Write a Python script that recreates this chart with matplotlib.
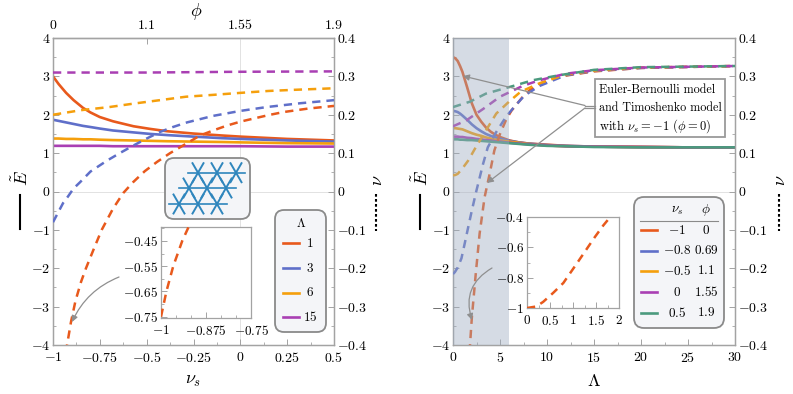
import matplotlib
matplotlib.use('Agg')
import matplotlib.pyplot as plt
from matplotlib.patches import FancyBboxPatch, FancyArrowPatch, Rectangle

plt.rcParams['mathtext.fontset'] = 'cm'
plt.rcParams['font.family'] = 'cmr10'
plt.rcParams['axes.unicode_minus'] = False
plt.rcParams['axes.formatter.use_mathtext'] = True

RED = '#e8591c'
BLUE = '#5f6fc9'
ORANGE = '#f59f0c'
PURPLE = '#a93fb3'
GREEN = '#4b9a7e'
FRAME = '#a3a3a3'
W, H = 793, 394

# left panel, Young's modulus against nu_s
nus_e = [-1, -0.97, -0.93, -0.89, -0.84, -0.8, -0.75, -0.68, -0.57, -0.48, -0.39, -0.25, -0.1, 0, 0.25, 0.5]
e_l1 = [3.0, 2.8, 2.57, 2.38, 2.18, 2.06, 1.94, 1.83, 1.7, 1.63, 1.57, 1.51, 1.46, 1.43, 1.37, 1.33]
e_l3 = [1.87, 1.84, 1.8, 1.76, 1.71, 1.68, 1.64, 1.59, 1.54, 1.5, 1.47, 1.43, 1.39, 1.37, 1.33, 1.3]
e_l6 = [1.38, 1.38, 1.37, 1.37, 1.36, 1.36, 1.35, 1.34, 1.33, 1.32, 1.31, 1.3, 1.29, 1.28, 1.26, 1.25]
e_l15 = [1.19, 1.19, 1.19, 1.19, 1.19, 1.19, 1.19, 1.18, 1.18, 1.18, 1.18, 1.18, 1.18, 1.18, 1.17, 1.17]

# left panel, Poisson's ratio against nu_s
nus_l1 = [-1, -0.985, -0.966, -0.941, -0.925, -0.904, -0.88, -0.85, -0.824, -0.78, -0.74, -0.68, -0.625, -0.573, -0.51,
          -0.445, -0.375, -0.305, -0.215, -0.14, -0.07, 0, 0.07, 0.15, 0.23, 0.36, 0.5]
nu_l1 = [-0.75, -0.65, -0.55, -0.45, -0.4, -0.34, -0.285, -0.235, -0.2, -0.147, -0.1, -0.045, -0.004, 0.024, 0.053,
         0.077, 0.1, 0.12, 0.146, 0.16, 0.172, 0.182, 0.19, 0.199, 0.207, 0.216, 0.223]
nus_l3 = [-1, -0.946, -0.92, -0.89, -0.856, -0.8, -0.71, -0.64, -0.57, -0.5, -0.43, -0.36, -0.285, -0.146, 0, 0.14, 0.32, 0.5]
nu_l3 = [-0.08, -0.03, -0.013, 0.008, 0.024, 0.052, 0.081, 0.101, 0.12, 0.138, 0.155, 0.168, 0.18, 0.197, 0.21, 0.22, 0.23, 0.238]
nus_l6 = [-1, -0.85, -0.7, -0.57, -0.43, -0.29, -0.14, 0, 0.15, 0.29, 0.5]
nu_l6 = [0.2, 0.212, 0.22, 0.229, 0.238, 0.247, 0.252, 0.257, 0.262, 0.265, 0.269]
nus_l15 = [-1, -0.5, 0, 0.5]
nu_l15 = [0.31, 0.31, 0.312, 0.313]

# right panel, Young's modulus against Lambda
lam_e = [0, 0.25, 0.5, 0.75, 1, 1.5, 2, 2.5, 3, 3.5, 4, 4.5, 5, 6, 7, 8, 10, 12, 15, 20, 25, 30]
e_m1 = [3.5, 3.47, 3.4, 3.27, 3.12, 2.72, 2.3, 2.0, 1.82, 1.67, 1.56, 1.48, 1.42, 1.33, 1.28, 1.25, 1.22, 1.19, 1.17, 1.16, 1.15, 1.15]
e_m08 = [2.1, 2.09, 2.07, 2.03, 1.98, 1.87, 1.75, 1.65, 1.57, 1.5, 1.45, 1.41, 1.38, 1.32, 1.28, 1.25, 1.21, 1.19, 1.17, 1.16, 1.15, 1.15]
e_m05 = [1.65, 1.65, 1.64, 1.63, 1.62, 1.57, 1.52, 1.48, 1.45, 1.41, 1.38, 1.35, 1.33, 1.3, 1.27, 1.24, 1.2, 1.18, 1.17, 1.16, 1.15, 1.15]
e_0 = [1.43, 1.43, 1.43, 1.42, 1.42, 1.4, 1.39, 1.37, 1.36, 1.34, 1.33, 1.31, 1.3, 1.27, 1.25, 1.23, 1.2, 1.18, 1.17, 1.16, 1.15, 1.15]
e_05 = [1.36, 1.36, 1.36, 1.35, 1.35, 1.34, 1.34, 1.33, 1.32, 1.31, 1.3, 1.29, 1.28, 1.26, 1.24, 1.22, 1.19, 1.18, 1.16, 1.15, 1.15, 1.15]

# right panel, Poisson's ratio against Lambda
lam_r = [0, 0.2, 0.35, 0.57, 0.79, 0.97, 1.12, 1.3, 1.48, 1.66, 1.81, 2, 2.4, 2.83, 3.36, 3.9, 4.4, 5, 5.65, 6.2, 6.8, 7.4, 8.2, 9.2, 10.5, 12, 15, 20, 30]
nu_r = [-1, -0.99, -0.96, -0.9, -0.835, -0.756, -0.69, -0.61, -0.53, -0.455, -0.4, -0.33, -0.22, -0.11, -0.015, 0.046, 0.107,
        0.15, 0.187, 0.21, 0.228, 0.246, 0.265, 0.28, 0.293, 0.302, 0.313, 0.322, 0.327]
lam_b = [0, 0.2, 0.5, 0.9, 1.25, 1.6, 2, 2.47, 3.2, 3.7, 4.6, 5.65, 6.5, 7.6, 9.2, 12, 15, 20, 30]
nu_b = [-0.215, -0.21, -0.198, -0.174, -0.135, -0.095, -0.05, 0, 0.072, 0.115, 0.155, 0.195, 0.22, 0.25, 0.275, 0.303, 0.314, 0.322, 0.327]
lam_o = [0, 0.25, 0.5, 1, 1.6, 2.3, 3.4, 4.6, 6, 7.2, 9.2, 12, 15, 20, 30]
nu_o = [0.042, 0.043, 0.046, 0.06, 0.08, 0.11, 0.155, 0.203, 0.235, 0.26, 0.282, 0.305, 0.315, 0.323, 0.327]
lam_p = [0, 1.4, 3.2, 5, 7.4, 9.2, 12, 15, 20, 30]
nu_p = [0.17, 0.185, 0.215, 0.247, 0.275, 0.29, 0.307, 0.316, 0.323, 0.327]
lam_g = [0, 1.8, 3.5, 6.4, 8.5, 11.3, 15, 20, 30]
nu_g = [0.22, 0.234, 0.255, 0.275, 0.29, 0.303, 0.317, 0.324, 0.327]

e_ticks = [-4, -3, -2, -1, 0, 1, 2, 3, 4]
e_labels = ['$-4$', '$-3$', '$-2$', '$-1$', '$0$', '$1$', '$2$', '$3$', '$4$']
nu_ticks = [-0.4, -0.3, -0.2, -0.1, 0, 0.1, 0.2, 0.3, 0.4]
nu_labels = ['$-0.4$', '$-0.3$', '$-0.2$', '$-0.1$', '$0$', '$0.1$', '$0.2$', '$0.3$', '$0.4$']
nus_ticks = [-1, -0.75, -0.5, -0.25, 0, 0.25, 0.5]
nus_labels = ['$-1$', '$-0.75$', '$-0.5$', '$-0.25$', '$0$', '$0.25$', '$0.5$']
phi_labels = ['$0$', '$1.1$', '$1.55$', '$1.9$']
phi_ticks = [-1, -0.5, 0, 0.5]
lam_ticks = [0, 5, 10, 15, 20, 25, 30]
lam_labels = ['$0$', '$5$', '$10$', '$15$', '$20$', '$25$', '$30$']
left_legend = ['$1$', '$3$', '$6$', '$15$']
right_nus = ['$-1$', '$-0.8$', '$-0.5$', '$0$', '$0.5$']
right_phi = ['$0$', '$0.69$', '$1.1$', '$1.55$', '$1.9$']

fig = plt.figure(figsize=(W / 100, H / 100), dpi=100)


def pixel_axes(x0, y0, x1, y1):
    return fig.add_axes([x0 / W, 1 - y1 / H, (x1 - x0) / W, (y1 - y0) / H])


def style(ax, size=10):
    for s in ax.spines.values():
        s.set_color(FRAME)
        s.set_linewidth(0.9)
    ax.tick_params(which='major', direction='in', length=4, width=0.7, color=FRAME, labelsize=size, pad=2)
    ax.tick_params(which='minor', direction='in', length=2.2, width=0.6, color=FRAME)
    ax.tick_params(axis='x', which='major', pad=4)


def dashed(ax, x, y, color):
    ax.plot(x, y, color=color, lw=1.8, ls=(0, (3.3, 2.4)), dash_capstyle='butt', zorder=3)


def panel(box):
    ax = pixel_axes(*box)
    style(ax)
    ax.set_ylim(-4, 4)
    ax.set_yticks(e_ticks, e_labels)
    ax.set_yticks([v + 0.5 for v in e_ticks[:-1]], minor=True)
    ax.axhline(0, color='#e2e2e2', lw=0.7, zorder=1)
    axr = ax.twinx()
    style(axr)
    axr.set_ylim(-0.4, 0.4)
    axr.set_yticks(nu_ticks, nu_labels)
    axr.set_yticks([v + 0.05 for v in nu_ticks[:-1]], minor=True)
    return ax, axr


# left panel
ax1, ax1r = panel((53, 38, 334, 345))
ax1.set_xlim(-1, 0.5)
ax1.set_xticks(nus_ticks, nus_labels)
ax1.set_xticks([-0.875, -0.625, -0.375, -0.125, 0.125, 0.375], minor=True)
ax1.axvline(0, color='#e2e2e2', lw=0.7, zorder=1)
for y, c in [(e_l1, RED), (e_l3, BLUE), (e_l6, ORANGE), (e_l15, PURPLE)]:
    ax1.plot(nus_e, y, color=c, lw=1.9, zorder=3)
dashed(ax1r, nus_l3, nu_l3, BLUE)
dashed(ax1r, nus_l6, nu_l6, ORANGE)
dashed(ax1r, nus_l15, nu_l15, PURPLE)
dashed(ax1r, nus_l1, nu_l1, RED)
top = ax1.secondary_xaxis('top')
style(top)
top.set_xticks(phi_ticks, phi_labels)

# right panel
ax2, ax2r = panel((453, 38, 735, 345))
ax2.set_xlim(0, 30)
ax2.set_xticks(lam_ticks, lam_labels)
ax2.set_xticks([v + 2.5 for v in lam_ticks[:-1]], minor=True)
for y, c in [(e_m1, RED), (e_m08, BLUE), (e_m05, ORANGE), (e_0, PURPLE), (e_05, GREEN)]:
    ax2.plot(lam_e, y, color=c, lw=1.9, zorder=3)
dashed(ax2r, lam_r, nu_r, RED)
dashed(ax2r, lam_b, nu_b, BLUE)
dashed(ax2r, lam_o, nu_o, ORANGE)
dashed(ax2r, lam_p, nu_p, PURPLE)
dashed(ax2r, lam_g, nu_g, GREEN)
ax2r.axvspan(0, 6, color='#9dabbf', alpha=0.42, lw=0, zorder=5)

# inset, left
ins1 = pixel_axes(161, 227, 251, 318)
ins1.set_zorder(6)
style(ins1, 9.5)
ins1.set_xlim(-1, -0.75)
ins1.set_ylim(-0.755, -0.395)
ins1.set_xticks([-1, -0.875, -0.75], ['$-1$', '$-0.875$', '$-0.75$'])
ins1.set_xticks([-0.958, -0.917, -0.833, -0.792], minor=True)
ins1.set_yticks([-0.75, -0.65, -0.55, -0.45], ['$-0.75$', '$-0.65$', '$-0.55$', '$-0.45$'])
ins1.set_yticks([-0.7, -0.6, -0.5, -0.4], minor=True)
dashed(ins1, nus_l1, nu_l1, RED)

# inset, right
ins2 = pixel_axes(527, 217, 619, 308)
ins2.set_zorder(6)
style(ins2, 9.5)
ins2.set_xlim(0, 2)
ins2.set_ylim(-1, -0.4)
ins2.set_xticks([0, 0.5, 1, 1.5, 2], ['$0$', '$0.5$', '$1$', '$1.5$', '$2$'])
ins2.set_xticks([0.25, 0.75, 1.25, 1.75], minor=True)
ins2.set_yticks([-1, -0.8, -0.6, -0.4], ['$-1$', '$-0.8$', '$-0.6$', '$-0.4$'])
ins2.set_yticks([-0.9, -0.7, -0.5], minor=True)
dashed(ins2, lam_r, nu_r, RED)

# overlay in pixel coordinates for boxes, legends, arrows and axis labels
ov = fig.add_axes([0, 0, 1, 1], facecolor='none')
ov.set_zorder(10)
ov.set_xlim(0, W)
ov.set_ylim(H, 0)
ov.axis('off')


def label(x, y, s, size=9.5, ha='center', **kw):
    ov.text(x, y, s, fontsize=size, ha=ha, va='center', **kw)


def round_box(x0, y0, x1, y1, r=8):
    ov.add_patch(FancyBboxPatch((x0 + r, y0 + r), x1 - x0 - 2 * r, y1 - y0 - 2 * r,
                                boxstyle='round,pad=%d,rounding_size=%d' % (r, r),
                                fc='#f4f5f8', ec='#8a8a8a', lw=1.3))


def arrow(a, b, rad=0.0):
    ov.add_patch(FancyArrowPatch(a, b, arrowstyle='-|>', mutation_scale=9, color='#8f8f8f',
                                 lw=0.9, shrinkA=0, shrinkB=0,
                                 connectionstyle='arc3,rad=%s' % rad))


label(196, 11, r'$\phi$', 13)
label(193, 381, r'$\nu_s$', 13)
label(594, 381, r'$\Lambda$', 13)
for x_e, x_n in [(21, 377), (421, 780)]:
    label(x_e, 178, r'$\tilde{E}$', 13, rotation=90)
    ov.plot([x_e - 1, x_e - 1], [195, 229], color='black', lw=1.5)
    label(x_n, 180, r'$\nu$', 13, rotation=90)
    ov.plot([x_n - 1, x_n - 1], [194, 231], color='black', lw=1.5, ls=(0, (1.3, 1.1)))

# lattice sketch
round_box(165, 158, 250, 219, 9)
rows = [(172.7, 188, 245, [198, 217, 236]), (188, 179, 236, [189, 207, 226]), (204, 169, 227, [179, 198, 217])]
for y, x0, x1, nodes in rows:
    ov.plot([x0, x1], [y, y], color='#2f86bd', lw=1.2)
    for n in nodes:
        ov.plot([n - 5.5, n + 5.5], [y + 9.5, y - 9.5], color='#2f86bd', lw=1.4)
        ov.plot([n - 5.5, n + 5.5], [y - 9.5, y + 9.5], color='#2f86bd', lw=1.4)

# left legend
round_box(275, 210, 326, 332, 9)
label(301, 223, r'$\Lambda$', 9)
for y, c, s in zip([243, 268, 293, 317], [RED, BLUE, ORANGE, PURPLE], left_legend):
    ov.plot([283, 299], [y, y], color=c, lw=1.9)
    label(310, y, s, 9.5)

# right legend
round_box(634, 197, 724, 328, 10)
label(677, 211, r'$\nu_s$', 9.5)
label(706, 210, r'$\phi$', 9.5)
ov.plot([640, 718], [221, 221], color='#8a8a8a', lw=0.8)
for y, c, a, b in zip([230, 251, 271, 292, 313], [RED, BLUE, ORANGE, PURPLE, GREEN], right_nus, right_phi):
    ov.plot([641, 657], [y, y], color=c, lw=1.9)
    label(677, y, a, 9.5)
    label(706, y, b, 9.5)

# annotation box and arrows
ov.add_patch(Rectangle((595, 79), 130, 58, fc='white', ec='#9a9a9a', lw=1.3))
label(599, 90, 'Euler-Bernoulli model', 8.7, ha='left')
label(599, 108, 'and Timoshenko model', 8.7, ha='left')
label(599, 126, r'with $\nu_s=-1$ $(\phi=0)$', 9, ha='left')
ov.plot([595, 585], [105.5, 105.5], color='#8f8f8f', lw=0.9)
ov.plot([595, 585], [108, 108], color='#8f8f8f', lw=0.9)
arrow((585, 105.5), (463, 76))
arrow((585, 108), (487, 183))
arrow((492, 268), (472, 320), 0.4)
arrow((119, 277), (72, 322), 0.2)

fig.savefig('out.png', dpi=100)
